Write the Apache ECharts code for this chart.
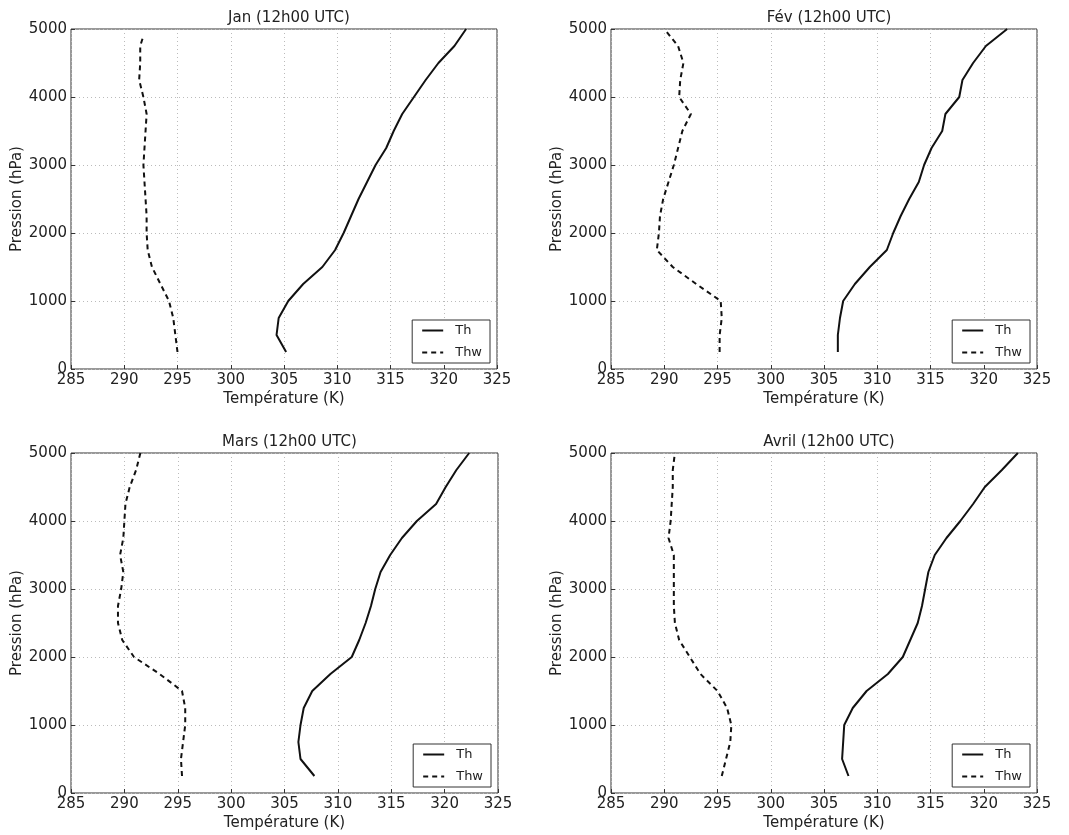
<!DOCTYPE html>
<html>
<head>
<meta charset="utf-8">
<script src="https://cdn.jsdelivr.net/npm/echarts@6/dist/echarts.min.js"></script>
<style>
html,body{margin:0;padding:0;background:#fff;}
#chart{width:1069px;height:835px;}
</style>
</head>
<body>
<div id="chart"></div>
<script>
// Pressure levels (hPa)
const pressure = [250,500,750,1000,1250,1500,1750,2000,2250,2500,2750,3000,3250,3500,3750,4000,4250,4500,4750,5000];
const pressureJanThw = [250,500,750,1000,1250,1500,1750,2000,2250,2500,2750,3000,3250,3500,3750,4000,4250,4500,4750,4900];

const titles = ['Jan (12h00 UTC)','Fév (12h00 UTC)','Mars (12h00 UTC)','Avril (12h00 UTC)'];
const xTicks = [285,290,295,300,305,310,315,320,325];
const yTicks = [0,1000,2000,3000,4000,5000];

const janTh  = [305.2,304.3,304.5,305.4,306.8,308.6,309.8,310.6,311.3,312.0,312.8,313.6,314.6,315.3,316.1,317.2,318.3,319.5,321.0,322.1];
const janThw = [295.0,294.8,294.6,294.2,293.4,292.6,292.2,292.1,292.1,292.0,291.9,291.8,291.9,292.0,292.1,291.8,291.4,291.5,291.5,291.8];

const fevTh  = [306.3,306.3,306.5,306.8,307.9,309.3,310.9,311.5,312.2,313.0,313.9,314.4,315.1,316.1,316.4,317.7,318.0,319.0,320.2,322.2];
const fevThw = [295.2,295.2,295.4,295.3,293.0,290.8,289.3,289.5,289.6,289.9,290.4,290.9,291.3,291.7,292.5,291.4,291.5,291.8,291.3,290.0];

const marTh  = [307.8,306.5,306.3,306.5,306.8,307.6,309.3,311.3,312.0,312.6,313.1,313.5,314.0,314.9,316.0,317.4,319.2,320.1,321.1,322.3];
const marThw = [295.4,295.3,295.5,295.7,295.7,295.4,293.3,290.9,289.8,289.4,289.4,289.7,289.9,289.6,289.9,290.0,290.1,290.5,291.1,291.5];

const avrTh  = [307.3,306.7,306.8,306.9,307.7,309.0,311.0,312.4,313.1,313.8,314.2,314.5,314.8,315.4,316.5,317.8,319.0,320.1,321.7,323.2];
const avrThw = [295.4,295.8,296.2,296.3,295.9,295.0,293.4,292.4,291.4,291.0,290.9,290.9,290.9,290.9,290.4,290.6,290.7,290.8,290.8,291.0];

const panels = [
  {th: janTh, thw: janThw, pTh: pressure, pThw: pressureJanThw},
  {th: fevTh, thw: fevThw, pTh: pressure, pThw: pressure},
  {th: marTh, thw: marThw, pTh: pressure, pThw: pressure},
  {th: avrTh, thw: avrThw, pTh: pressure, pThw: pressure}
];

const FONT = 'DejaVu Sans';
const TXT = '#222';
const gridPos = [
  {left: 71, top: 29, width: 426, height: 340},
  {left: 611, top: 29, width: 426, height: 340},
  {left: 71, top: 453, width: 427, height: 340},
  {left: 611, top: 453, width: 426, height: 340}
];

const grids = [], xAxes = [], yAxes = [], series = [], titleArr = [], legends = [];
gridPos.forEach((g, i) => {
  grids.push({left: g.left, top: g.top, width: g.width, height: g.height,
    show: true, borderColor: '#333', borderWidth: 1, backgroundColor: '#fff'});
  xAxes.push({type: 'value', gridIndex: i, min: xTicks[0], max: xTicks[xTicks.length-1], interval: 5,
    name: 'Température (K)', nameLocation: 'middle', nameGap: 23,
    nameTextStyle: {fontFamily: FONT, fontSize: 15, color: TXT},
    axisLine: {show: false},
    axisTick: {show: true, inside: true, length: 4, lineStyle: {color: '#333'}},
    axisLabel: {fontFamily: FONT, fontSize: 15, color: TXT, margin: 4, formatter: v => String(v)},
    splitLine: {show: true, lineStyle: {color: '#bbb', type: [1, 3], width: 1}}
  });
  yAxes.push({type: 'value', gridIndex: i, min: yTicks[0], max: yTicks[yTicks.length-1], interval: 1000,
    name: 'Pression (hPa)', nameLocation: 'middle', nameGap: 46,
    nameTextStyle: {fontFamily: FONT, fontSize: 15, color: TXT},
    axisLine: {show: false},
    axisTick: {show: true, inside: true, length: 4, lineStyle: {color: '#333'}},
    axisLabel: {fontFamily: FONT, fontSize: 15, color: TXT, margin: 4, formatter: v => String(v)},
    splitLine: {show: true, lineStyle: {color: '#bbb', type: [1, 3], width: 1}}
  });
  titleArr.push({text: titles[i], left: g.left + g.width/2, top: g.top - 23, textAlign: 'center',
    textStyle: {fontFamily: FONT, fontSize: 15, fontWeight: 'normal', color: TXT}});
  const p = panels[i];
  series.push({name: 'Th', type: 'line', xAxisIndex: i, yAxisIndex: i, symbol: 'none', silent: true,
    data: p.th.map((t, k) => [t, p.pTh[k]]),
    lineStyle: {color: '#111', width: 2, type: 'solid'}, itemStyle: {color: '#111'}});
  series.push({name: 'Thw', type: 'line', xAxisIndex: i, yAxisIndex: i, symbol: 'none', silent: true,
    data: p.thw.map((t, k) => [t, p.pThw[k]]),
    lineStyle: {color: '#111', width: 2, type: [5, 4]}, itemStyle: {color: '#111'}});
  legends.push({
    data: ['Th', 'Thw'], orient: 'vertical',
    right: 1069 - (g.left + g.width) + 7, bottom: 835 - (g.top + g.height) + 6,
    backgroundColor: '#fff', borderColor: '#333', borderWidth: 1,
    padding: [4, 8, 4, 9], itemWidth: 21, itemHeight: 10, itemGap: 9,
    selectedMode: false,
    itemStyle: {opacity: 0},
    textStyle: {fontFamily: FONT, fontSize: 13, color: TXT, padding: [0, 0, 0, 7]}
  });
});

const chart = echarts.init(document.getElementById('chart'), null, {renderer: 'canvas'});
chart.setOption({
  animation: false,
  backgroundColor: '#fff',
  title: titleArr,
  legend: legends,
  grid: grids,
  xAxis: xAxes,
  yAxis: yAxes,
  series: series
});
</script>
</body>
</html>
